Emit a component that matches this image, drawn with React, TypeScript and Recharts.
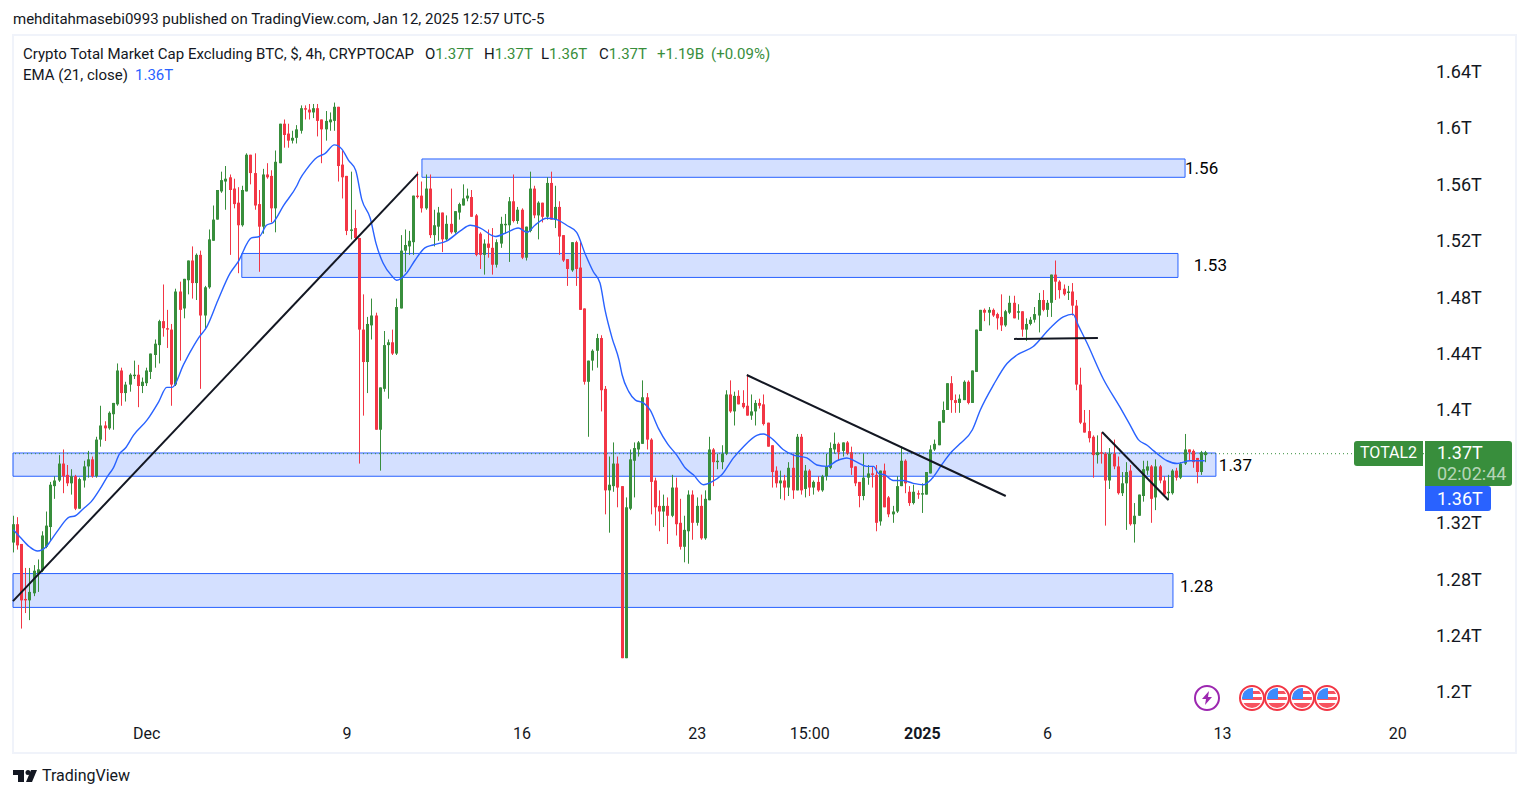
import {
  Bar,
  ComposedChart,
  Line,
  ReferenceArea,
  ReferenceDot,
  ReferenceLine,
  XAxis,
  YAxis,
} from "recharts";

// TOTAL2, 4h bars, in billions of USD
const opens = [
  1306,1319,1305,1266,1265,1270,1284,1286,1303,1317,
  1346,1350,1362,1354,1348,1353,1330,1350,1360,1365,
  1353,1379,1389,1387,1397,1404,1428,1412,1418,1424,
  1425,1417,1419,1427,1439,1446,1463,1458,1457,1418,
  1484,1472,1492,1506,1490,1510,1467,1487,1520,1535,
  1555,1562,1565,1557,1547,1531,1555,1581,1568,1546,
  1530,1567,1566,1543,1575,1603,1596,1591,1593,1598,
  1614,1613,1611,1614,1606,1599,1604,1605,1615,1574,
  1566,1527,1529,1522,1457,1434,1460,1467,1386,1415,
  1446,1448,1440,1472,1513,1516,1519,1552,1552,1543,
  1557,1524,1530,1540,1521,1532,1526,1540,1545,1550,
  1551,1538,1525,1510,1518,1515,1503,1518,1531,1531,
  1548,1534,1542,1508,1527,1557,1538,1547,1537,1561,
  1535,1544,1524,1507,1499,1519,1501,1472,1420,1435,
  1442,1451,1415,1343,1346,1362,1346,1224,1330,1364,
  1372,1376,1409,1379,1350,1332,1328,1332,1325,1345,
  1320,1303,1314,1340,1320,1332,1309,1336,1372,1363,
  1363,1369,1411,1399,1410,1405,1403,1396,1399,1405,
  1404,1391,1375,1357,1348,1350,1345,1359,1343,1381,
  1344,1357,1345,1349,1343,1353,1359,1372,1376,1371,
  1377,1370,1360,1349,1339,1352,1355,1354,1321,1357,
  1338,1326,1328,1346,1364,1342,1334,1341,1340,1340,
  1355,1372,1375,1391,1400,1419,1407,1405,1407,1420,
  1405,1427,1456,1471,1469,1471,1468,1466,1460,1469,
  1476,1469,1470,1457,1461,1464,1467,1478,1471,1476,
  1496,1491,1486,1483,1484,1474,1418,1391,1385,1381,
  1368,1370,1369,1350,1369,1360,1341,1348,1357,1319,
  1325,1339,1357,1360,1338,1360,1350,1341,1341,1357,
  1352,1362,1372,1371,1366,1356,1368,
];

const highs = [
  1325,1324,1305,1288,1288,1290,1294,1314,1328,1349,
  1353,1368,1372,1361,1358,1354,1352,1364,1371,1367,
  1381,1403,1392,1399,1405,1433,1430,1420,1426,1435,
  1432,1423,1430,1440,1450,1464,1489,1471,1461,1486,
  1491,1493,1506,1516,1511,1513,1488,1528,1545,1556,
  1569,1573,1567,1564,1558,1559,1582,1581,1582,1556,
  1571,1575,1570,1584,1603,1606,1603,1598,1602,1616,
  1616,1617,1617,1617,1606,1612,1611,1618,1615,1584,
  1566,1569,1542,1522,1482,1466,1479,1469,1416,1456,
  1450,1457,1479,1524,1528,1527,1552,1569,1562,1567,
  1567,1542,1544,1540,1538,1557,1541,1547,1560,1557,
  1556,1539,1526,1521,1528,1529,1521,1537,1539,1551,
  1567,1544,1543,1530,1569,1559,1548,1547,1565,1569,
  1559,1548,1524,1507,1519,1520,1519,1472,1435,1443,
  1454,1453,1417,1367,1377,1367,1346,1338,1372,1377,
  1378,1421,1412,1380,1352,1343,1340,1338,1354,1352,
  1337,1325,1343,1343,1338,1340,1343,1381,1373,1369,
  1375,1414,1421,1413,1414,1414,1425,1411,1407,1408,
  1411,1391,1375,1360,1357,1354,1363,1369,1383,1383,
  1361,1358,1350,1353,1354,1369,1377,1384,1377,1377,
  1378,1374,1360,1349,1369,1361,1360,1361,1357,1362,
  1339,1332,1353,1374,1365,1346,1347,1343,1348,1356,
  1375,1379,1392,1406,1419,1424,1411,1411,1421,1421,
  1428,1457,1471,1472,1473,1472,1469,1482,1471,1481,
  1481,1475,1470,1465,1466,1473,1483,1485,1478,1496,
  1506,1492,1489,1488,1490,1478,1430,1400,1400,1382,
  1382,1384,1370,1373,1379,1367,1356,1363,1361,1334,
  1340,1364,1364,1361,1365,1361,1353,1354,1358,1359,
  1363,1383,1372,1372,1366,1371,1371,
];

const lows = [
  1299,1301,1245,1256,1251,1268,1271,1285,1302,1307,
  1337,1349,1341,1346,1340,1329,1330,1345,1352,1352,
  1352,1374,1378,1386,1386,1403,1403,1406,1413,1422,
  1402,1412,1417,1422,1430,1433,1452,1444,1403,1417,
  1435,1465,1482,1479,1478,1415,1457,1486,1520,1535,
  1554,1542,1510,1543,1497,1530,1555,1560,1542,1498,
  1525,1564,1533,1526,1575,1586,1586,1589,1589,1596,
  1606,1606,1607,1594,1575,1591,1598,1598,1562,1550,
  1524,1521,1521,1362,1396,1412,1450,1386,1357,1413,
  1408,1439,1439,1472,1498,1510,1510,1550,1540,1542,
  1522,1516,1520,1512,1520,1525,1525,1535,1545,1548,
  1537,1509,1500,1496,1508,1496,1501,1515,1525,1505,
  1533,1532,1507,1506,1526,1536,1521,1533,1535,1535,
  1529,1510,1505,1488,1498,1488,1471,1418,1381,1428,
  1430,1399,1326,1313,1342,1331,1224,1224,1329,1338,
  1367,1376,1372,1326,1318,1314,1317,1305,1324,1311,
  1301,1292,1291,1308,1318,1308,1308,1336,1346,1358,
  1358,1368,1398,1389,1404,1401,1396,1393,1389,1401,
  1389,1374,1345,1345,1337,1336,1339,1337,1343,1340,
  1338,1339,1340,1342,1342,1350,1358,1369,1364,1367,
  1368,1354,1346,1331,1336,1347,1345,1314,1318,1331,
  1324,1320,1327,1346,1341,1332,1333,1337,1327,1340,
  1355,1371,1375,1391,1400,1398,1398,1398,1407,1404,
  1405,1427,1456,1463,1460,1466,1457,1456,1459,1468,
  1465,1464,1452,1449,1460,1462,1455,1470,1466,1466,
  1478,1479,1481,1478,1467,1414,1390,1384,1377,1352,
  1362,1362,1318,1344,1358,1340,1339,1315,1318,1306,
  1325,1335,1354,1320,1329,1348,1339,1336,1340,1350,
  1351,1361,1364,1359,1348,1354,1363,
];

const closes = [
  1319,1304,1265,1265,1271,1286,1287,1311,1318,1347,
  1350,1362,1353,1348,1353,1330,1351,1360,1365,1353,
  1379,1389,1387,1398,1405,1428,1412,1418,1425,1425,
  1417,1420,1428,1440,1447,1463,1458,1457,1418,1484,
  1471,1493,1506,1490,1510,1467,1487,1521,1535,1556,
  1563,1564,1556,1546,1531,1556,1581,1568,1545,1530,
  1567,1565,1543,1576,1603,1595,1591,1593,1599,1614,
  1613,1611,1614,1605,1599,1605,1606,1615,1573,1565,
  1527,1528,1522,1457,1434,1461,1467,1386,1416,1446,
  1448,1440,1473,1513,1517,1520,1552,1551,1543,1557,
  1524,1531,1540,1521,1532,1526,1541,1546,1550,1552,
  1537,1510,1510,1518,1515,1503,1519,1532,1532,1548,
  1534,1542,1508,1530,1557,1538,1547,1537,1561,1535,
  1544,1523,1506,1500,1519,1500,1471,1420,1435,1442,
  1451,1414,1343,1347,1362,1345,1224,1331,1365,1373,
  1377,1409,1379,1349,1331,1328,1332,1325,1345,1319,
  1303,1315,1340,1320,1332,1309,1337,1372,1363,1364,
  1369,1411,1399,1410,1404,1402,1396,1399,1405,1403,
  1390,1374,1356,1348,1350,1345,1359,1343,1381,1343,
  1357,1345,1349,1343,1353,1360,1373,1376,1370,1377,
  1369,1359,1348,1339,1352,1355,1354,1320,1357,1331,
  1326,1328,1346,1364,1348,1334,1342,1340,1341,1356,
  1372,1376,1392,1400,1419,1407,1405,1408,1420,1405,
  1428,1457,1471,1469,1471,1467,1465,1460,1470,1476,
  1465,1470,1457,1461,1464,1468,1478,1471,1476,1496,
  1491,1485,1482,1484,1474,1418,1391,1384,1380,1368,
  1370,1369,1350,1369,1360,1341,1348,1356,1319,1325,
  1340,1358,1360,1337,1360,1350,1340,1342,1357,1352,
  1362,1372,1370,1363,1356,1370,1370,
];

// EMA 21 at the bars where it bends
const emaBars = [
  0,1.6,3.9,5.8,7.9,8.9,10.8,13.4,14.9,16.8,18.7,20.8,22.6,24,25.5,26.9,28.8,32.1,34.9,36.8,
  38.1,40.8,42.4,44.4,46.4,49.1,52,53.9,57.1,59,60.7,62.3,64.8,68,68.8,70.4,72.8,74.8,77,78.8,
  80.4,82.1,83.6,85.6,87,88.7,90.8,91.9,94.3,96.3,98.7,100.7,104,107.2,109.6,112,115.6,118.4,121.1,123.2,
  125.1,127.9,130.3,132.7,135.1,137.1,139.1,140.7,141.9,143.6,145.3,146,147.6,149.2,151.1,152.7,154.7,156.9,159.1,161.1,
  163.1,165.5,167.5,169.9,172.7,175.1,178.3,179.9,182.2,184.6,187.1,190.3,192.7,195.1,197.5,199.9,202.3,204.7,206.3,207.5,
  209,211,213.4,215.8,218.2,220.2,222.6,224.6,227,230,231.9,235.1,238.3,240.7,244.6,248.6,251.8,254.1,255.4,257.4,
  261.4,265.4,267.7,269.8,271.9,273.5,276.7,279.1,282.2,285.7,
];

const emaValues = [
  1315,1310,1303,1300,1303,1307,1315,1324,1325,1330,1335,1344,1353,1359,1369,1373,1382,1393,1406,1416,
  1416,1432,1441,1451,1459,1478,1497,1505,1522,1523,1531,1533,1545,1559,1564,1571,1579,1582,1588,1585,
  1577,1570,1549,1536,1518,1504,1495,1492,1497,1506,1515,1517,1520,1527,1531,1529,1523,1526,1529,1526,
  1531,1536,1535,1531,1526,1511,1498,1490,1471,1451,1435,1425,1413,1407,1405,1400,1387,1376,1368,1359,
  1354,1347,1349,1354,1366,1374,1382,1383,1379,1372,1368,1366,1361,1360,1364,1366,1363,1360,1360,1355,
  1354,1350,1350,1348,1347,1351,1361,1369,1376,1386,1400,1418,1433,1439,1445,1458,1466,1468,1460,1448,
  1422,1402,1390,1379,1375,1371,1364,1362,1364,1364,
];

const tickBars = [32, 80, 122, 164, 191, 218, 248, 290, 332];
const tickLabels = ["Dec", "9", "16", "23", "15:00", "2025", "6", "13", "20"];
const priceTicks = [1200, 1240, 1280, 1320, 1400, 1440, 1480, 1520, 1560, 1600, 1640];

const zoneBars = [[98, 281], [54.8, 279.3], [-0.07, 288.4], [-0.07, 278.1]];
const zonePrices = [[1578, 1565], [1511, 1494], [1369.5, 1353], [1284, 1260]];

const trendBars = [[-0.07, 97], [175.9, 238], [240, 260.1], [261.1, 277]];
const trendPrices = [[1264.5, 1567.4], [1424.8, 1339], [1450.4, 1451], [1384.4, 1336.2]];

const noteBars = [281, 283.1, 289.1, 279.8];
const notePrices = [1571.6, 1502.8, 1361, 1275];
const noteTexts = ["1.56", "1.53", "1.37", "1.28"];

const GREEN = "#388e3c";
const RED = "#f23645";
const BLUE = "#2962ff";
const INK = "#131722";
const FONT = "Roboto, sans-serif";

const candles = opens.map((open, i) => ({
  bar: i,
  open,
  high: highs[i],
  low: lows[i],
  close: closes[i],
}));
const emaLine = emaBars.map((bar, i) => ({ bar, ema: emaValues[i] }));

// wick + body, scaled from the rect Recharts gives for the low..high range
function Candle(props: any) {
  const { x, y, width, height, payload } = props;
  const { open, high, low, close } = payload;
  const cx = Math.round(x + width / 2 - 0.5);
  const ppu = high > low ? height / (high - low) : 0;
  const top = y + (high - Math.max(open, close)) * ppu;
  const bodyH = Math.max(1, Math.abs(open - close) * ppu);
  const color = close >= open ? GREEN : RED;
  return (
    <g>
      <rect x={cx} y={y} width={1} height={height} fill={color} />
      <rect x={cx - 1} y={top} width={3} height={bodyH} fill={color} />
    </g>
  );
}

function formatPrice(v: number) {
  return `${(v / 1000).toString()}T`;
}

function TimeTick(props: any) {
  const { x, y, payload } = props;
  const label = tickLabels[tickBars.indexOf(payload.value)];
  return (
    <text
      x={x}
      y={y}
      dy="0.35em"
      textAnchor="middle"
      fontFamily={FONT}
      fontSize={16}
      fontWeight={label === "2025" ? 700 : 400}
      fill={INK}
    >
      {label}
    </text>
  );
}

function Text({ x, y, color = INK, size = 15, children, style }: any) {
  return (
    <div
      style={{
        position: "absolute",
        left: x,
        top: y,
        color,
        fontSize: size,
        lineHeight: "20px",
        fontFamily: FONT,
        whiteSpace: "nowrap",
        ...style,
      }}
    >
      {children}
    </div>
  );
}

function Flag({ cx, id }: { cx: number; id: string }) {
  const cy = 698;
  return (
    <g>
      <clipPath id={id}>
        <circle cx={cx} cy={cy} r={10} />
      </clipPath>
      <circle cx={cx} cy={cy} r={12} fill="#fff" stroke={RED} strokeWidth={2} />
      <g clipPath={`url(#${id})`}>
        <rect x={cx - 10} y={cy - 10} width={20} height={20} fill="#fff" />
        <rect x={cx - 10} y={cy - 7} width={20} height={3} fill="#f7525f" />
        <rect x={cx - 10} y={cy - 1} width={20} height={3} fill="#f7525f" />
        <rect x={cx - 10} y={cy + 5} width={20} height={5} fill="#f7525f" />
        <rect x={cx - 10} y={cy - 10} width={11} height={11} fill="#3d8bfd" />
      </g>
    </g>
  );
}

export default function App() {
  return (
    <div style={{ position: "absolute", left: 0, top: 0, width: 1529, height: 798, overflow: "hidden", background: "#fff" }}>
      <div
        style={{
          position: "absolute",
          left: 12,
          top: 34,
          width: 1505,
          height: 720,
          border: "2px solid #f0f3fa",
          boxSizing: "border-box",
        }}
      />
      <div style={{ position: "absolute", left: 0, top: 0 }}>
        <ComposedChart
          width={1529}
          height={798}
          data={candles}
          margin={{ top: 36, right: 14, bottom: 48, left: 13 }}
        >
          <XAxis
            type="number"
            dataKey="bar"
            domain={[-0.07, 338.3]}
            ticks={tickBars}
            tick={<TimeTick />}
            tickLine={false}
            axisLine={false}
            tickSize={0}
            tickMargin={17}
            height={34}
            interval={0}
          />
          <YAxis
            orientation="right"
            domain={[1183, 1665.2]}
            ticks={priceTicks}
            tickFormatter={formatPrice}
            tick={{ fontFamily: FONT, fontSize: 18, fill: INK }}
            tickLine={false}
            axisLine={false}
            tickSize={0}
            tickMargin={12}
            width={91}
            interval={0}
            allowDataOverflow
          />
          {zoneBars.map((bars, i) => (
            <ReferenceArea
              key={`zone-${i}`}
              x1={bars[0]}
              x2={bars[1]}
              y1={zonePrices[i][0]}
              y2={zonePrices[i][1]}
              fill={BLUE}
              fillOpacity={0.2}
              stroke={BLUE}
              strokeWidth={1}
            />
          ))}
          <ReferenceLine y={1369} stroke={GREEN} strokeDasharray="1 3" />
          <Bar
            dataKey={(d: any) => [d.low, d.high]}
            barSize={3}
            shape={<Candle />}
            isAnimationActive={false}
          />
          <Line
            data={emaLine}
            dataKey="ema"
            type="monotone"
            stroke={BLUE}
            strokeWidth={1.4}
            dot={false}
            activeDot={false}
            isAnimationActive={false}
          />
          {trendBars.map((bars, i) => (
            <ReferenceLine
              key={`trend-${i}`}
              segment={[
                { x: bars[0], y: trendPrices[i][0] },
                { x: bars[1], y: trendPrices[i][1] },
              ]}
              stroke={INK}
              strokeWidth={2}
            />
          ))}
          {noteBars.map((bar, i) => (
            <ReferenceDot
              key={`note-${i}`}
              x={bar}
              y={notePrices[i]}
              r={0}
              shape={(p: any) => (
                <text x={p.cx} y={p.cy} dy="0.35em" fontFamily={FONT} fontSize={17} fill="#000">
                  {noteTexts[i]}
                </text>
              )}
            />
          ))}
        </ComposedChart>
      </div>

      <Text x={13} y={9}>mehditahmasebi0993 published on TradingView.com, Jan 12, 2025 12:57 UTC-5</Text>
      <Text x={23} y={44}>Crypto Total Market Cap Excluding BTC, $, 4h, CRYPTOCAP</Text>
      <Text x={425} y={44}>O<span style={{ color: GREEN }}>1.37T</span></Text>
      <Text x={484} y={44}>H<span style={{ color: GREEN }}>1.37T</span></Text>
      <Text x={541} y={44}>L<span style={{ color: GREEN }}>1.36T</span></Text>
      <Text x={599} y={44}>C<span style={{ color: GREEN }}>1.37T</span></Text>
      <Text x={657} y={44} color={GREEN}>+1.19B</Text>
      <Text x={711} y={44} color={GREEN}>(+0.09%)</Text>
      <Text x={23} y={65}>EMA (21, close)</Text>
      <Text x={135} y={65} color={BLUE}>1.36T</Text>

      <div style={{ position: "absolute", left: 1354, top: 441, width: 69, height: 25, background: GREEN, borderRadius: "3px 0 0 3px" }} />
      <Text x={1360} y={443} color="#fff" size={16}>TOTAL2</Text>
      <div style={{ position: "absolute", left: 1425, top: 441, width: 87, height: 45, background: GREEN, borderRadius: "0 3px 3px 0" }} />
      <Text x={1437} y={443} color="#fff" size={18}>1.37T</Text>
      <Text x={1437} y={464} color="rgba(255,255,255,0.65)" size={18}>02:02:44</Text>
      <div style={{ position: "absolute", left: 1425, top: 486, width: 66, height: 25, background: BLUE, borderRadius: "0 3px 3px 0" }} />
      <Text x={1437} y={489} color="#fff" size={18}>1.36T</Text>

      <svg width={1529} height={798} style={{ position: "absolute", left: 0, top: 0, pointerEvents: "none" }}>
        <circle cx={1207} cy={698} r={12} fill="#fff" stroke="#9c27b0" strokeWidth={2} />
        <path d="M1209 691 L1202 699 L1206 699 L1205 705 L1212 697 L1208 697 Z" fill="#9c27b0" />
        <Flag cx={1252} id="f1" />
        <Flag cx={1277} id="f2" />
        <Flag cx={1302} id="f3" />
        <Flag cx={1327} id="f4" />
        <path d="M13 770 H24 V782 H18 V775 H13 Z" fill={INK} />
        <circle cx={28} cy={772.5} r={2.5} fill={INK} />
        <path d="M31 770 H37 L32 782 H26 Z" fill={INK} />
      </svg>
      <Text x={42} y={766} size={16}>TradingView</Text>
    </div>
  );
}
